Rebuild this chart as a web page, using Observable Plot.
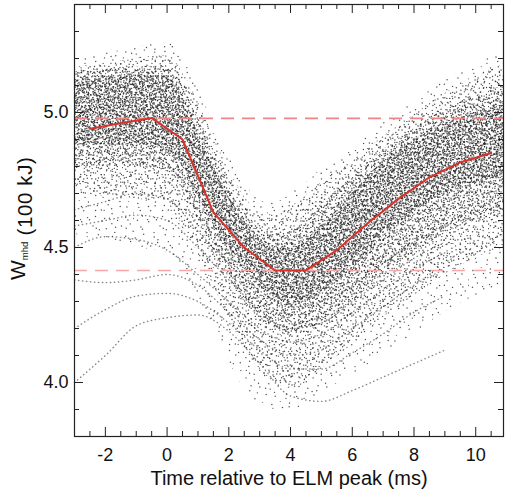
<!DOCTYPE html>
<html>
<head>
<meta charset="utf-8">
<script src="https://cdn.jsdelivr.net/npm/d3@7"></script>
<script src="https://cdn.jsdelivr.net/npm/@observablehq/plot@0.6"></script>
<style>
  html, body { margin: 0; padding: 0; background: #fff; }
  svg { display: block; }
</style>
</head>
<body>
<div id="chart"></div>
<script>
// ---- data ----
const bandTimes = [-3, -2, -1, 0, 0.5, 1, 1.5, 2, 2.5, 3, 3.5, 4, 4.5, 5, 6, 7, 8, 9, 10, 10.9];
const haloTop   = [5.21, 5.22, 5.24, 5.26, 5.20, 5.09, 4.96, 4.84, 4.74, 4.68, 4.67, 4.70, 4.74, 4.79, 4.87, 4.96, 5.04, 5.12, 5.18, 5.22];
const outerTop  = [5.17, 5.18, 5.20, 5.21, 5.15, 5.04, 4.91, 4.79, 4.69, 4.63, 4.62, 4.65, 4.69, 4.74, 4.82, 4.91, 4.99, 5.07, 5.13, 5.18];
const midTop    = [5.15, 5.16, 5.17, 5.17, 5.10, 4.98, 4.85, 4.73, 4.63, 4.57, 4.55, 4.56, 4.60, 4.66, 4.76, 4.86, 4.94, 5.01, 5.06, 5.10];
const coreTop   = [5.12, 5.13, 5.14, 5.13, 5.06, 4.93, 4.80, 4.69, 4.60, 4.53, 4.50, 4.50, 4.53, 4.58, 4.70, 4.82, 4.90, 4.96, 5.00, 5.03];
const coreBot   = [4.88, 4.88, 4.88, 4.86, 4.80, 4.69, 4.58, 4.49, 4.42, 4.36, 4.31, 4.29, 4.30, 4.33, 4.42, 4.54, 4.63, 4.70, 4.74, 4.76];
const midBot    = [4.80, 4.80, 4.80, 4.78, 4.71, 4.60, 4.48, 4.39, 4.30, 4.24, 4.20, 4.18, 4.19, 4.22, 4.30, 4.40, 4.48, 4.55, 4.60, 4.62];
const outerBot  = [4.70, 4.69, 4.68, 4.66, 4.58, 4.48, 4.36, 4.24, 4.13, 4.05, 4.00, 3.98, 4.00, 4.05, 4.14, 4.24, 4.32, 4.40, 4.46, 4.50];
const haloBot   = [4.55, 4.52, 4.50, 4.48, 4.42, 4.32, 4.20, 4.08, 3.98, 3.92, 3.90, 3.90, 3.92, 3.96, 4.03, 4.10, 4.18, 4.26, 4.32, 4.36];

const traceTimes = [-3, -2, -1, 0, 1, 2, 3, 4, 5, 6, 7, 8, 9];
const trace1 = [4.00, 4.10, 4.21, 4.24, 4.25, 4.19, 4.07, 3.95, 3.93, 3.97, 4.02, 4.07, 4.12];
const trace2 = [4.20, 4.27, 4.32, 4.33, 4.30, 4.22, 4.12, 4.05, 4.05, 4.11, 4.18, 4.26, 4.32];
const trace3 = [4.38, 4.37, 4.38, 4.40, 4.36, 4.26, 4.16, 4.10, 4.12, 4.20, 4.28, 4.36, 4.42];
const trace4 = [4.50, 4.54, 4.53, 4.49, 4.40, 4.30, 4.20, 4.15, 4.18, 4.26, 4.34, 4.42, 4.48];
const trace5 = [4.58, 4.60, 4.62, 4.60, 4.50, 4.38, 4.27, 4.20, 4.22, 4.30, 4.38, 4.46, 4.52];
const trace6 = [4.64, 4.67, 4.70, 4.68, 4.56, 4.44, 4.34, 4.28, 4.30, 4.36, 4.44, 4.52, 4.58];

const meanTimes  = [-2.5, -1.5, -0.5, 0.5, 1.5, 2.5, 3.5, 4.5, 5.5, 6.5, 7.5, 8.5, 9.5, 10.5];
const meanValues = [4.94, 4.96, 4.98, 4.90, 4.63, 4.50, 4.415, 4.415, 4.49, 4.59, 4.68, 4.76, 4.815, 4.85];

const refLevels = [4.978, 4.415];

const xMajor = [-2, 0, 2, 4, 6, 8, 10];
const xMinor = [-3, -2.5, -1.5, -1, -0.5, 0.5, 1, 1.5, 2.5, 3, 3.5, 4.5, 5, 5.5, 6.5, 7, 7.5, 8.5, 9, 9.5, 10.5];
const yMajor = [4.0, 4.5, 5.0];
const yMinor = [3.8, 3.9, 4.1, 4.2, 4.3, 4.4, 4.6, 4.7, 4.8, 4.9, 5.1, 5.2, 5.3, 5.4];

// ---- tables ----
const bands = bandTimes.map((t, i) => ({
  t, haloTop: haloTop[i], outerTop: outerTop[i], midTop: midTop[i], coreTop: coreTop[i],
  coreBot: coreBot[i], midBot: midBot[i], outerBot: outerBot[i], haloBot: haloBot[i]
}));
const traces = [trace1, trace2, trace3, trace4, trace5, trace6]
  .map(vals => traceTimes.map((t, i) => ({t, v: vals[i]})));
const mean = meanTimes.map((t, i) => ({t, v: meanValues[i]}));

// ---- layout ----
const W = 506, H = 491, mL = 74, mR = 3, mT = 4, mB = 55;
const innerW = W - mL - mR, innerH = H - mT - mB;
const font = "'Liberation Sans', Arial, Helvetica, sans-serif";
const curve = "monotone-x";
const tickColor = "#222";
const fmtX = d => (d < 0 ? "-" : "") + Math.abs(d);

const svg = Plot.plot({
  width: W, height: H,
  marginLeft: mL, marginRight: mR, marginTop: mT, marginBottom: mB,
  style: {fontFamily: font, background: "#fff", color: "#111"},
  x: {domain: [-3, 10.9]},
  y: {domain: [3.8, 5.4]},
  marks: [
    Plot.areaY(bands, {x: "t", y1: "haloBot", y2: "haloTop", fill: "url(#stipH)", curve}),
    Plot.areaY(bands, {x: "t", y1: "outerBot", y2: "outerTop", fill: "url(#stipA)", curve}),
    Plot.areaY(bands, {x: "t", y1: "midBot", y2: "midTop", fill: "url(#stipB)", curve}),
    Plot.areaY(bands, {x: "t", y1: "coreBot", y2: "coreTop", fill: "url(#stipC)", curve}),
    ...traces.map(tr => Plot.line(tr, {
      x: "t", y: "v", stroke: "#222", strokeOpacity: 0.55, strokeWidth: 1.4,
      strokeDasharray: "0.4 3.6", strokeLinecap: "round", curve
    })),
    Plot.ruleY([refLevels[1]], {stroke: "#f3a9a9", strokeWidth: 1.6, strokeDasharray: "13 8"}),
    Plot.ruleY([refLevels[0]], {stroke: "#ef8585", strokeWidth: 1.7, strokeDasharray: "13 8"}),
    Plot.line(mean, {x: "t", y: "v", stroke: "#d8322a", strokeWidth: 2}),
    // inward ticks on all four sides
    Plot.ruleX(xMajor, {insetTop: innerH - 9, stroke: tickColor}),
    Plot.ruleX(xMinor, {insetTop: innerH - 5, stroke: tickColor}),
    Plot.ruleX(xMajor, {insetBottom: innerH - 9, stroke: tickColor}),
    Plot.ruleX(xMinor, {insetBottom: innerH - 5, stroke: tickColor}),
    Plot.ruleY(yMajor, {insetRight: innerW - 9, stroke: tickColor}),
    Plot.ruleY(yMinor, {insetRight: innerW - 5, stroke: tickColor}),
    Plot.ruleY(yMajor, {insetLeft: innerW - 9, stroke: tickColor}),
    Plot.ruleY(yMinor, {insetLeft: innerW - 5, stroke: tickColor}),
    Plot.frame({stroke: "#222", strokeWidth: 1.2}),
    Plot.axisX(xMajor, {tickSize: 0, tickPadding: 12, fontSize: 18, label: null, tickFormat: fmtX}),
    Plot.axisY(yMajor, {tickSize: 0, tickPadding: 6, fontSize: 18, label: null, tickFormat: d3.format(".1f")}),
    Plot.text(["Time relative to ELM peak (ms)"], {frameAnchor: "bottom", dy: 48, fontSize: 20, fill: "#111"})
  ]
});

// stipple textures for the point cloud (quasi-random dot tiles; styling only)
const NS = "http://www.w3.org/2000/svg";
const defs = document.createElementNS(NS, "defs");
function tile(id, size, density, seed, r, op) {
  const n = Math.round(size * size * density);
  let s = `<pattern id="${id}" patternUnits="userSpaceOnUse" width="${size}" height="${size}">`;
  for (let i = 0; i < n; i++) {
    const jx = (Math.abs(Math.sin((i + seed) * 12.9898) * 43758.5453) % 1) - 0.5;
    const jy = (Math.abs(Math.sin((i + seed) * 78.233) * 24634.6345) % 1) - 0.5;
    const x = ((((0.5 + (i + seed) * 0.7548776662) % 1) * size + jx * 4) + size) % size;
    const y = ((((0.5 + (i + seed) * 0.5698402910) % 1) * size + jy * 4) + size) % size;
    s += `<circle cx="${x.toFixed(2)}" cy="${y.toFixed(2)}" r="${r}" fill="#222" fill-opacity="${op}"/>`;
  }
  return s + `</pattern>`;
}
defs.innerHTML =
  tile("stipH", 67, 0.022, 509, 0.72, 0.8) +
  tile("stipA", 61, 0.065, 3, 0.72, 0.82) +
  tile("stipB", 53, 0.105, 101, 0.72, 0.82) +
  tile("stipC", 47, 0.17, 257, 0.72, 0.82);
svg.insertBefore(defs, svg.firstChild);

// y-axis title with subscript
const ylab = d3.select(svg).append("text")
  .attr("transform", "translate(25,280) rotate(-90)")
  .attr("text-anchor", "start")
  .attr("font-family", font)
  .attr("fill", "#111");
ylab.append("tspan").attr("font-size", 21).text("W");
ylab.append("tspan").attr("font-size", 9.5).attr("dy", 3).text("mhd");
ylab.append("tspan").attr("font-size", 20.5).attr("letter-spacing", 0.6).attr("dy", 4).text(" (100 kJ)");

document.getElementById("chart").appendChild(svg);
</script>
</body>
</html>
